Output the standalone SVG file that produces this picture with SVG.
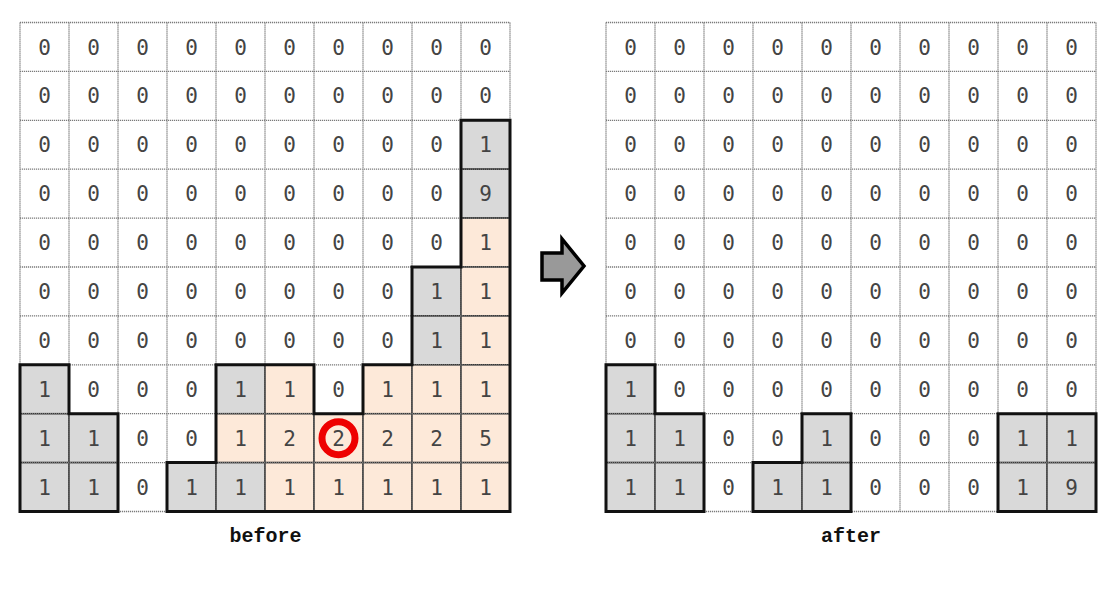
<svg xmlns="http://www.w3.org/2000/svg" width="1120" height="599" viewBox="0 0 1120 599">
<style>
.bg{fill:#ffffff}
.grid{fill:none;stroke:#7a7a7a;stroke-width:1.3;stroke-dasharray:1.2 0.8}
.g{fill:#d9d9d9;stroke:#2a2a2a;stroke-width:1.5}
.p{fill:#fde9d9;stroke:#2a2a2a;stroke-width:1.5}
.ol{fill:none;stroke:#111;stroke-width:3;stroke-linejoin:miter}
.n{font-family:"DejaVu Sans Mono","Liberation Mono",monospace;font-size:21px;fill:#444;text-anchor:middle}
.lbl{font-family:"Liberation Mono","DejaVu Sans Mono",monospace;font-size:20px;font-weight:bold;fill:#111;text-anchor:middle}
</style>
<rect class="bg" x="0" y="0" width="1120" height="599"/>

<g id="before-grid">
<g id="before-cells">
<rect class="g" x="461" y="120.3" width="49" height="48.9"/>
<rect class="g" x="461" y="169.2" width="49" height="48.9"/>
<rect class="p" x="461" y="218.1" width="49" height="48.9"/>
<rect class="g" x="412" y="267" width="49" height="48.9"/>
<rect class="p" x="461" y="267" width="49" height="48.9"/>
<rect class="g" x="412" y="315.9" width="49" height="48.9"/>
<rect class="p" x="461" y="315.9" width="49" height="48.9"/>
<rect class="g" x="20" y="364.8" width="49" height="48.9"/>
<rect class="g" x="216" y="364.8" width="49" height="48.9"/>
<rect class="p" x="265" y="364.8" width="49" height="48.9"/>
<rect class="p" x="363" y="364.8" width="49" height="48.9"/>
<rect class="p" x="412" y="364.8" width="49" height="48.9"/>
<rect class="p" x="461" y="364.8" width="49" height="48.9"/>
<rect class="g" x="20" y="413.7" width="49" height="48.9"/>
<rect class="g" x="69" y="413.7" width="49" height="48.9"/>
<rect class="p" x="216" y="413.7" width="49" height="48.9"/>
<rect class="p" x="265" y="413.7" width="49" height="48.9"/>
<rect class="p" x="314" y="413.7" width="49" height="48.9"/>
<rect class="p" x="363" y="413.7" width="49" height="48.9"/>
<rect class="p" x="412" y="413.7" width="49" height="48.9"/>
<rect class="p" x="461" y="413.7" width="49" height="48.9"/>
<rect class="g" x="20" y="462.6" width="49" height="48.9"/>
<rect class="g" x="69" y="462.6" width="49" height="48.9"/>
<rect class="g" x="167" y="462.6" width="49" height="48.9"/>
<rect class="g" x="216" y="462.6" width="49" height="48.9"/>
<rect class="p" x="265" y="462.6" width="49" height="48.9"/>
<rect class="p" x="314" y="462.6" width="49" height="48.9"/>
<rect class="p" x="363" y="462.6" width="49" height="48.9"/>
<rect class="p" x="412" y="462.6" width="49" height="48.9"/>
<rect class="p" x="461" y="462.6" width="49" height="48.9"/>
</g>
<path class="grid" d="M20,22.5V511.5M69,22.5V511.5M118,22.5V511.5M167,22.5V511.5M216,22.5V511.5M265,22.5V511.5M314,22.5V511.5M363,22.5V511.5M412,22.5V511.5M461,22.5V511.5M510,22.5V511.5M20,22.5H510M20,71.4H510M20,120.3H510M20,169.2H510M20,218.1H510M20,267H510M20,315.9H510M20,364.8H510M20,413.7H510M20,462.6H510M20,511.5H510"/>
<path class="ol" d="M20,364.8H69V413.7H118V511.5H20Z"/>
<path class="ol" d="M461,120.3H510V511.5H167V462.6H216V364.8H314V413.7H363V364.8H412V267H461Z"/>
<circle cx="338.5" cy="438.2" r="16.5" fill="none" stroke="#ee0000" stroke-width="7"/>
<g id="before-values">
<text class="n" x="44.5" y="54.5">0</text><text class="n" x="93.5" y="54.5">0</text><text class="n" x="142.5" y="54.5">0</text><text class="n" x="191.5" y="54.5">0</text><text class="n" x="240.5" y="54.5">0</text><text class="n" x="289.5" y="54.5">0</text><text class="n" x="338.5" y="54.5">0</text><text class="n" x="387.5" y="54.5">0</text><text class="n" x="436.5" y="54.5">0</text><text class="n" x="485.5" y="54.5">0</text>
<text class="n" x="44.5" y="103.4">0</text><text class="n" x="93.5" y="103.4">0</text><text class="n" x="142.5" y="103.4">0</text><text class="n" x="191.5" y="103.4">0</text><text class="n" x="240.5" y="103.4">0</text><text class="n" x="289.5" y="103.4">0</text><text class="n" x="338.5" y="103.4">0</text><text class="n" x="387.5" y="103.4">0</text><text class="n" x="436.5" y="103.4">0</text><text class="n" x="485.5" y="103.4">0</text>
<text class="n" x="44.5" y="152.3">0</text><text class="n" x="93.5" y="152.3">0</text><text class="n" x="142.5" y="152.3">0</text><text class="n" x="191.5" y="152.3">0</text><text class="n" x="240.5" y="152.3">0</text><text class="n" x="289.5" y="152.3">0</text><text class="n" x="338.5" y="152.3">0</text><text class="n" x="387.5" y="152.3">0</text><text class="n" x="436.5" y="152.3">0</text><text class="n" x="485.5" y="152.3">1</text>
<text class="n" x="44.5" y="201.2">0</text><text class="n" x="93.5" y="201.2">0</text><text class="n" x="142.5" y="201.2">0</text><text class="n" x="191.5" y="201.2">0</text><text class="n" x="240.5" y="201.2">0</text><text class="n" x="289.5" y="201.2">0</text><text class="n" x="338.5" y="201.2">0</text><text class="n" x="387.5" y="201.2">0</text><text class="n" x="436.5" y="201.2">0</text><text class="n" x="485.5" y="201.2">9</text>
<text class="n" x="44.5" y="250.1">0</text><text class="n" x="93.5" y="250.1">0</text><text class="n" x="142.5" y="250.1">0</text><text class="n" x="191.5" y="250.1">0</text><text class="n" x="240.5" y="250.1">0</text><text class="n" x="289.5" y="250.1">0</text><text class="n" x="338.5" y="250.1">0</text><text class="n" x="387.5" y="250.1">0</text><text class="n" x="436.5" y="250.1">0</text><text class="n" x="485.5" y="250.1">1</text>
<text class="n" x="44.5" y="299">0</text><text class="n" x="93.5" y="299">0</text><text class="n" x="142.5" y="299">0</text><text class="n" x="191.5" y="299">0</text><text class="n" x="240.5" y="299">0</text><text class="n" x="289.5" y="299">0</text><text class="n" x="338.5" y="299">0</text><text class="n" x="387.5" y="299">0</text><text class="n" x="436.5" y="299">1</text><text class="n" x="485.5" y="299">1</text>
<text class="n" x="44.5" y="347.9">0</text><text class="n" x="93.5" y="347.9">0</text><text class="n" x="142.5" y="347.9">0</text><text class="n" x="191.5" y="347.9">0</text><text class="n" x="240.5" y="347.9">0</text><text class="n" x="289.5" y="347.9">0</text><text class="n" x="338.5" y="347.9">0</text><text class="n" x="387.5" y="347.9">0</text><text class="n" x="436.5" y="347.9">1</text><text class="n" x="485.5" y="347.9">1</text>
<text class="n" x="44.5" y="396.8">1</text><text class="n" x="93.5" y="396.8">0</text><text class="n" x="142.5" y="396.8">0</text><text class="n" x="191.5" y="396.8">0</text><text class="n" x="240.5" y="396.8">1</text><text class="n" x="289.5" y="396.8">1</text><text class="n" x="338.5" y="396.8">0</text><text class="n" x="387.5" y="396.8">1</text><text class="n" x="436.5" y="396.8">1</text><text class="n" x="485.5" y="396.8">1</text>
<text class="n" x="44.5" y="445.7">1</text><text class="n" x="93.5" y="445.7">1</text><text class="n" x="142.5" y="445.7">0</text><text class="n" x="191.5" y="445.7">0</text><text class="n" x="240.5" y="445.7">1</text><text class="n" x="289.5" y="445.7">2</text><text class="n" x="338.5" y="445.7">2</text><text class="n" x="387.5" y="445.7">2</text><text class="n" x="436.5" y="445.7">2</text><text class="n" x="485.5" y="445.7">5</text>
<text class="n" x="44.5" y="494.6">1</text><text class="n" x="93.5" y="494.6">1</text><text class="n" x="142.5" y="494.6">0</text><text class="n" x="191.5" y="494.6">1</text><text class="n" x="240.5" y="494.6">1</text><text class="n" x="289.5" y="494.6">1</text><text class="n" x="338.5" y="494.6">1</text><text class="n" x="387.5" y="494.6">1</text><text class="n" x="436.5" y="494.6">1</text><text class="n" x="485.5" y="494.6">1</text>
</g>
<text id="before-label" class="lbl" x="265.5" y="542">before</text>
</g>

<g id="connectors">
<path id="arrow" d="M542,253H562V239L584,266L562,293V280H542Z" fill="#999" stroke="#000" stroke-width="3.5" stroke-linejoin="miter"/>
</g>

<g id="after-grid">
<g id="after-cells">
<rect class="g" x="606" y="364.8" width="49" height="48.9"/>
<rect class="g" x="606" y="413.7" width="49" height="48.9"/>
<rect class="g" x="655" y="413.7" width="49" height="48.9"/>
<rect class="g" x="802" y="413.7" width="49" height="48.9"/>
<rect class="g" x="998" y="413.7" width="49" height="48.9"/>
<rect class="g" x="1047" y="413.7" width="49" height="48.9"/>
<rect class="g" x="606" y="462.6" width="49" height="48.9"/>
<rect class="g" x="655" y="462.6" width="49" height="48.9"/>
<rect class="g" x="753" y="462.6" width="49" height="48.9"/>
<rect class="g" x="802" y="462.6" width="49" height="48.9"/>
<rect class="g" x="998" y="462.6" width="49" height="48.9"/>
<rect class="g" x="1047" y="462.6" width="49" height="48.9"/>
</g>
<path class="grid" d="M606,22.5V511.5M655,22.5V511.5M704,22.5V511.5M753,22.5V511.5M802,22.5V511.5M851,22.5V511.5M900,22.5V511.5M949,22.5V511.5M998,22.5V511.5M1047,22.5V511.5M1096,22.5V511.5M606,22.5H1096M606,71.4H1096M606,120.3H1096M606,169.2H1096M606,218.1H1096M606,267H1096M606,315.9H1096M606,364.8H1096M606,413.7H1096M606,462.6H1096M606,511.5H1096"/>
<path class="ol" d="M606,364.8H655V413.7H704V511.5H606Z"/>
<path class="ol" d="M802,413.7H851V511.5H753V462.6H802Z"/>
<path class="ol" d="M998,413.7H1096V511.5H998Z"/>
<g id="after-values">
<text class="n" x="630.5" y="54.5">0</text><text class="n" x="679.5" y="54.5">0</text><text class="n" x="728.5" y="54.5">0</text><text class="n" x="777.5" y="54.5">0</text><text class="n" x="826.5" y="54.5">0</text><text class="n" x="875.5" y="54.5">0</text><text class="n" x="924.5" y="54.5">0</text><text class="n" x="973.5" y="54.5">0</text><text class="n" x="1022.5" y="54.5">0</text><text class="n" x="1071.5" y="54.5">0</text>
<text class="n" x="630.5" y="103.4">0</text><text class="n" x="679.5" y="103.4">0</text><text class="n" x="728.5" y="103.4">0</text><text class="n" x="777.5" y="103.4">0</text><text class="n" x="826.5" y="103.4">0</text><text class="n" x="875.5" y="103.4">0</text><text class="n" x="924.5" y="103.4">0</text><text class="n" x="973.5" y="103.4">0</text><text class="n" x="1022.5" y="103.4">0</text><text class="n" x="1071.5" y="103.4">0</text>
<text class="n" x="630.5" y="152.3">0</text><text class="n" x="679.5" y="152.3">0</text><text class="n" x="728.5" y="152.3">0</text><text class="n" x="777.5" y="152.3">0</text><text class="n" x="826.5" y="152.3">0</text><text class="n" x="875.5" y="152.3">0</text><text class="n" x="924.5" y="152.3">0</text><text class="n" x="973.5" y="152.3">0</text><text class="n" x="1022.5" y="152.3">0</text><text class="n" x="1071.5" y="152.3">0</text>
<text class="n" x="630.5" y="201.2">0</text><text class="n" x="679.5" y="201.2">0</text><text class="n" x="728.5" y="201.2">0</text><text class="n" x="777.5" y="201.2">0</text><text class="n" x="826.5" y="201.2">0</text><text class="n" x="875.5" y="201.2">0</text><text class="n" x="924.5" y="201.2">0</text><text class="n" x="973.5" y="201.2">0</text><text class="n" x="1022.5" y="201.2">0</text><text class="n" x="1071.5" y="201.2">0</text>
<text class="n" x="630.5" y="250.1">0</text><text class="n" x="679.5" y="250.1">0</text><text class="n" x="728.5" y="250.1">0</text><text class="n" x="777.5" y="250.1">0</text><text class="n" x="826.5" y="250.1">0</text><text class="n" x="875.5" y="250.1">0</text><text class="n" x="924.5" y="250.1">0</text><text class="n" x="973.5" y="250.1">0</text><text class="n" x="1022.5" y="250.1">0</text><text class="n" x="1071.5" y="250.1">0</text>
<text class="n" x="630.5" y="299">0</text><text class="n" x="679.5" y="299">0</text><text class="n" x="728.5" y="299">0</text><text class="n" x="777.5" y="299">0</text><text class="n" x="826.5" y="299">0</text><text class="n" x="875.5" y="299">0</text><text class="n" x="924.5" y="299">0</text><text class="n" x="973.5" y="299">0</text><text class="n" x="1022.5" y="299">0</text><text class="n" x="1071.5" y="299">0</text>
<text class="n" x="630.5" y="347.9">0</text><text class="n" x="679.5" y="347.9">0</text><text class="n" x="728.5" y="347.9">0</text><text class="n" x="777.5" y="347.9">0</text><text class="n" x="826.5" y="347.9">0</text><text class="n" x="875.5" y="347.9">0</text><text class="n" x="924.5" y="347.9">0</text><text class="n" x="973.5" y="347.9">0</text><text class="n" x="1022.5" y="347.9">0</text><text class="n" x="1071.5" y="347.9">0</text>
<text class="n" x="630.5" y="396.8">1</text><text class="n" x="679.5" y="396.8">0</text><text class="n" x="728.5" y="396.8">0</text><text class="n" x="777.5" y="396.8">0</text><text class="n" x="826.5" y="396.8">0</text><text class="n" x="875.5" y="396.8">0</text><text class="n" x="924.5" y="396.8">0</text><text class="n" x="973.5" y="396.8">0</text><text class="n" x="1022.5" y="396.8">0</text><text class="n" x="1071.5" y="396.8">0</text>
<text class="n" x="630.5" y="445.7">1</text><text class="n" x="679.5" y="445.7">1</text><text class="n" x="728.5" y="445.7">0</text><text class="n" x="777.5" y="445.7">0</text><text class="n" x="826.5" y="445.7">1</text><text class="n" x="875.5" y="445.7">0</text><text class="n" x="924.5" y="445.7">0</text><text class="n" x="973.5" y="445.7">0</text><text class="n" x="1022.5" y="445.7">1</text><text class="n" x="1071.5" y="445.7">1</text>
<text class="n" x="630.5" y="494.6">1</text><text class="n" x="679.5" y="494.6">1</text><text class="n" x="728.5" y="494.6">0</text><text class="n" x="777.5" y="494.6">1</text><text class="n" x="826.5" y="494.6">1</text><text class="n" x="875.5" y="494.6">0</text><text class="n" x="924.5" y="494.6">0</text><text class="n" x="973.5" y="494.6">0</text><text class="n" x="1022.5" y="494.6">1</text><text class="n" x="1071.5" y="494.6">9</text>
</g>
<text id="after-label" class="lbl" x="851" y="542">after</text>
</g>
</svg>
